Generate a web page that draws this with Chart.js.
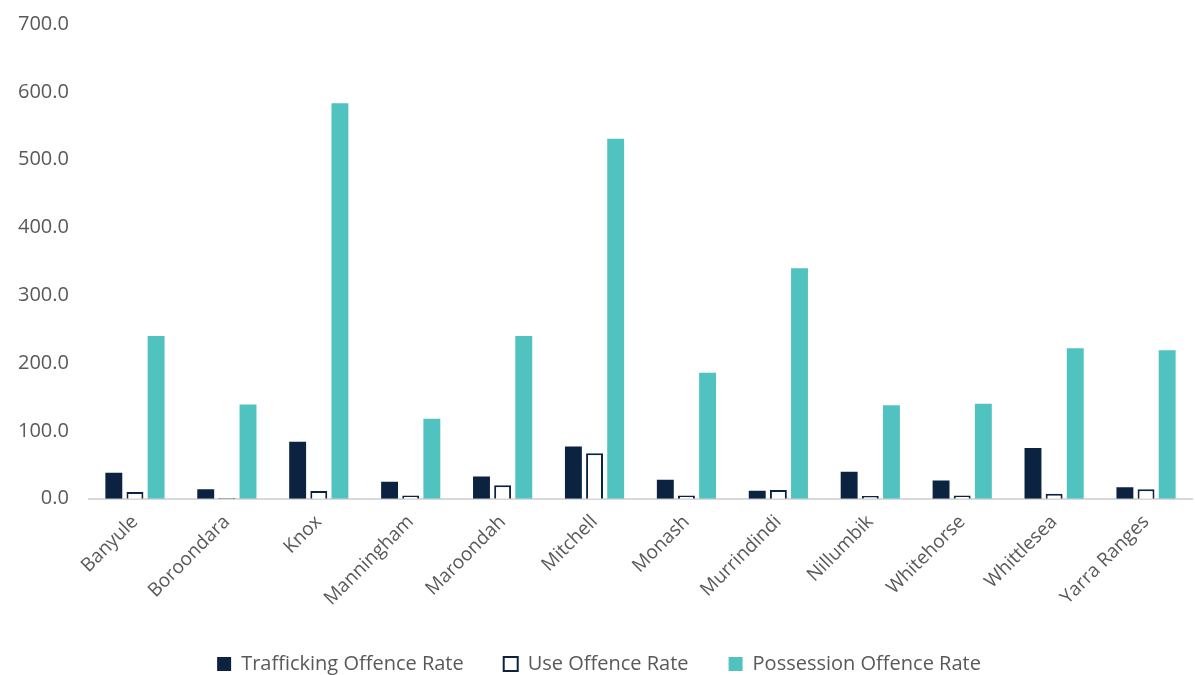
<!DOCTYPE html>
<html>
<head>
<meta charset="utf-8">
<script src="https://cdn.jsdelivr.net/npm/chart.js@4"></script>
<style>
  html, body { margin: 0; padding: 0; background: #fff; overflow: hidden; }
  #wrap { width: 1195px; height: 684px; position: relative; }
</style>
</head>
<body>
<div id="wrap"><canvas id="offenceChart"></canvas></div>
<script>
const councils = ['Banyule', 'Boroondara', 'Knox', 'Manningham', 'Maroondah', 'Mitchell',
    'Monash', 'Murrindindi', 'Nillumbik', 'Whitehorse', 'Whittlesea', 'Yarra Ranges'];

const traffickingRate = [38.5, 14.0, 84.0, 25.0, 33.0, 77.0, 28.0, 12.0, 40.0, 27.0, 75.0, 17.0];
const useRate = [10.0, 1.0, 11.5, 5.0, 20.0, 67.0, 5.0, 13.0, 4.0, 5.0, 7.5, 14.0];
const possessionRate = [240.0, 139.0, 583.0, 118.0, 240.0, 531.0, 186.0, 340.0, 138.0, 140.0, 222.0, 219.0];

const navy = '#0b2341';
const teal = '#50c3c0';
const textGrey = '#595959';
const fontFamily = '"Open Sans", "Liberation Sans", sans-serif';

const ctx = document.getElementById('offenceChart').getContext('2d');

new Chart(ctx, {
    type: 'bar',
    data: {
        labels: councils,
        datasets: [{
            label: 'Trafficking Offence Rate',
            data: traffickingRate,
            backgroundColor: navy,
            borderColor: navy,
            borderWidth: 0
        }, {
            label: 'Use Offence Rate',
            data: useRate,
            backgroundColor: '#ffffff',
            borderColor: navy,
            borderWidth: 2
        }, {
            label: 'Possession Offence Rate',
            data: possessionRate,
            backgroundColor: teal,
            borderColor: teal,
            borderWidth: 0
        }]
    },
    options: {
        responsive: true,
        maintainAspectRatio: false,
        animation: false,
        layout: {
            padding: { top: 14, right: 3, left: 6, bottom: 0 }
        },
        datasets: {
            bar: {
                categoryPercentage: 0.69,
                barPercentage: 0.8
            }
        },
        plugins: {
            tooltip: { enabled: false },
            legend: {
                position: 'bottom',
                labels: {
                    color: textGrey,
                    font: { family: fontFamily, size: 20 },
                    boxWidth: 14,
                    boxHeight: 14,
                    padding: 40,
                    useBorderRadius: false
                }
            }
        },
        scales: {
            x: {
                grid: { display: false },
                border: { display: true, color: '#d9d9d9', width: 2 },
                ticks: {
                    color: textGrey,
                    font: { family: fontFamily, size: 19 },
                    maxRotation: 45,
                    minRotation: 45,
                    padding: 4
                }
            },
            y: {
                min: 0,
                max: 700,
                grid: { display: false },
                border: { display: false },
                ticks: {
                    stepSize: 100,
                    color: textGrey,
                    font: { family: fontFamily, size: 20 },
                    padding: 12,
                    callback: v => v.toFixed(1)
                }
            }
        }
    }
});
</script>
</body>
</html>
